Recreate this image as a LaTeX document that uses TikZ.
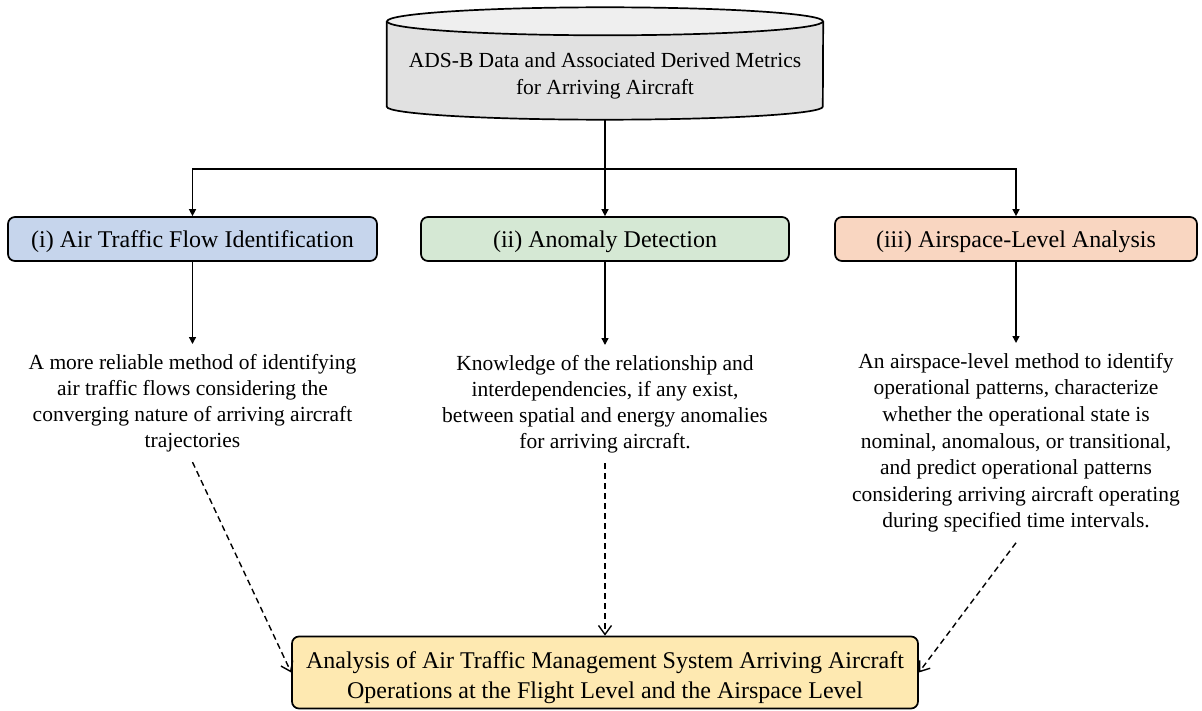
\documentclass[tikz,border=0pt]{standalone}
\usepackage{fontspec}
\setmainfont{Liberation Serif}
\usetikzlibrary{arrows.meta,backgrounds}
\definecolor{flowblue}{HTML}{C6D5EC}
\definecolor{anomgreen}{HTML}{D5E8D4}
\definecolor{airorange}{HTML}{F9D6C1}
\definecolor{resyellow}{HTML}{FEE9B1}
\definecolor{cylbody}{HTML}{E1E1E1}
\definecolor{cyltop}{HTML}{EFEFEF}
\begin{document}
\begin{tikzpicture}[x=1pt,y=-1pt,
  stage/.style={draw=black, line width=1.7pt, rounded corners=7pt,
    minimum height=44pt, inner sep=0pt, align=center,
    text height=21pt, text depth=3pt,
    font=\fontsize{24}{28}\selectfont},
  note/.style={align=center, inner xsep=0pt, inner ysep=10pt,
    font=\fontsize{21.5}{26}\selectfont},
  link/.style={line width=1.4pt, -{Triangle[length=7pt,width=7pt]}},
  hint/.style={line width=1.4pt, dash pattern=on 6pt off 4pt,
    -{Straight Barb[length=9pt,width=13pt,line width=1.4pt]}}]
\useasboundingbox (0,0) rectangle (1202,711);

% data store drawn as a cylinder around its label
\node[align=center, inner sep=0pt, minimum width=436pt, minimum height=88pt,
  font=\fontsize{21.5}{27}\selectfont] (db) at (605,75.5)
  {ADS-B Data and Associated Derived Metrics\\for Arriving Aircraft};
\begin{scope}[on background layer]
  \fill[cylbody] ([yshift=10pt]db.north west) -- ([yshift=13pt]db.south west)
    arc[start angle=180, end angle=360, x radius=218pt, y radius=13pt]
    -- ([yshift=10pt]db.north east) -- cycle;
  \draw[line width=1.7pt] ([yshift=10pt]db.north west) -- ([yshift=13pt]db.south west)
    arc[start angle=180, end angle=360, x radius=218pt, y radius=13pt]
    -- ([yshift=10pt]db.north east);
  \draw[line width=1.7pt, fill=cyltop] ([yshift=10pt]db.north)
    ellipse[x radius=218pt, y radius=14pt];
\end{scope}

% the three research thrusts
\node[stage, fill=flowblue, minimum width=369pt] (b1) at (192.5,239)
  {(i) Air Traffic Flow Identification};
\node[stage, fill=anomgreen, minimum width=368pt] (b2) at (605,239)
  {(ii) Anomaly Detection};
\node[stage, fill=airorange, minimum width=362pt] (b3) at (1016,239)
  {(iii) Airspace-Level Analysis};

% contributions of each thrust
\node[note, anchor=north] (t1) at (192.5,344)
  {A more reliable method of identifying\\air traffic flows considering the\\converging nature of arriving aircraft\\trajectories};
\node[note, anchor=north] (t2) at (605,345)
  {Knowledge of the relationship and\\interdependencies, if any exist,\\between spatial and energy anomalies\\for arriving aircraft.};
\node[note, anchor=north, font=\fontsize{21.5}{26.6}\selectfont] (t3) at (1016,343)
  {An airspace-level method to identify\\operational patterns, characterize\\whether the operational state is\\nominal, anomalous, or transitional,\\and predict operational patterns\\considering arriving aircraft operating\\during specified time intervals.};

% overall outcome
\node[stage, fill=resyellow, minimum width=626pt, minimum height=72pt,
  text height=56pt, text depth=5pt, font=\fontsize{24}{30}\selectfont] (res) at (605,672.5)
  {Analysis of Air Traffic Management System Arriving Aircraft\\Operations at the Flight Level and the Airspace Level};

% connectors
\coordinate (split) at (605,169);
\draw[line width=1.4pt] (db.south) -- (split);
\draw[link] (split) -| (b1.north);
\draw[link] (split) -- (b2.north);
\draw[link] (split) -| (b3.north);
\draw[link] (b1.south) -- (t1.north);
\draw[link] (b2.south) -- (t2.north);
\draw[link] (b3.south) -- (t3.north);
\draw[hint] (t1.south) -- (res.west);
\draw[hint] (t2.south) -- (res.north);
\draw[hint] (t3.south) -- (res.east);
\end{tikzpicture}
\end{document}
